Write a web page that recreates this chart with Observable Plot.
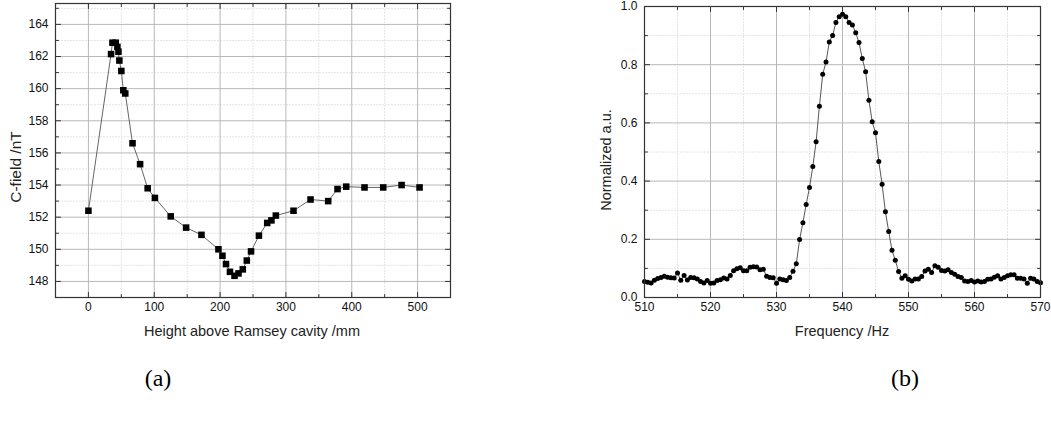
<!DOCTYPE html>
<html><head><meta charset="utf-8">
<script src="https://cdn.jsdelivr.net/npm/d3@7"></script>
<script src="https://cdn.jsdelivr.net/npm/@observablehq/plot@0.6"></script>
<style>
body{margin:0;background:#fff;}
#root{position:relative;width:1051px;height:421px;overflow:hidden;}
#root svg{position:absolute;top:0;}
.cap{position:absolute;font-family:"Liberation Serif","Times New Roman",serif;font-size:24px;color:#000;transform:translate(-50%,-50%);white-space:nowrap;line-height:1;}
.ttl{position:absolute;font-family:Arial,"Liberation Sans",sans-serif;color:#222;white-space:nowrap;line-height:1;transform:translate(-50%,-50%);}
.ttl.rot{transform:translate(-50%,-50%) rotate(-90deg);}
</style></head><body><div id="root"></div>
<script>
// ---- Panel (a) data ----
const heights = [0, 34.4, 36.5, 41.5, 44, 45.6, 47, 50, 53, 56, 67, 78.5, 90, 101, 125, 148.4, 171.7, 197.5, 203.6, 209, 215, 221.9, 228, 234.5, 240.6, 247, 259, 271.6, 278, 284.7, 311.5, 337.4, 364.2, 378.4, 391.6, 419.4, 447.8, 475.7, 503];
const cfield = [152.4, 162.15, 162.86, 162.86, 162.6, 162.3, 161.75, 161.1, 159.9, 159.7, 156.6, 155.3, 153.8, 153.2, 152.05, 151.35, 150.9, 150.0, 149.6, 149.08, 148.6, 148.35, 148.5, 148.75, 149.3, 149.87, 150.85, 151.64, 151.8, 152.1, 152.4, 153.1, 153.0, 153.75, 153.9, 153.85, 153.85, 154.0, 153.85];
const aXMajor = [0, 100, 200, 300, 400, 500];
const aXMinor = [50, 150, 250, 350, 450];
const aYMajor = [148, 150, 152, 154, 156, 158, 160, 162, 164];
const aYMinor = [149, 151, 153, 155, 157, 159, 161, 163, 165];

// ---- Panel (b) data ----
const freqs = [510, 510.5, 511, 511.5, 512, 512.5, 513, 513.5, 514, 514.5,
  515, 515.5, 516, 516.5, 517, 517.5, 518, 518.5, 519, 519.5,
  520, 520.5, 521, 521.5, 522, 522.5, 523, 523.5, 524, 524.5,
  525, 525.5, 526, 526.5, 527, 527.5, 528, 528.5, 529, 529.5,
  530, 530.5, 531, 531.5, 532, 532.5, 533, 533.5, 534, 534.5,
  535, 535.5, 536, 536.5, 537, 537.5, 538, 538.5, 539, 539.5,
  540, 540.5, 541, 541.5, 542, 542.5, 543, 543.5, 544, 544.5,
  545, 545.5, 546, 546.5, 547, 547.5, 548, 548.5, 549, 549.5,
  550, 550.5, 551, 551.5, 552, 552.5, 553, 553.5, 554, 554.5,
  555, 555.5, 556, 556.5, 557, 557.5, 558, 558.5, 559, 559.5,
  560, 560.5, 561, 561.5, 562, 562.5, 563, 563.5, 564, 564.5,
  565, 565.5, 566, 566.5, 567, 567.5, 568, 568.5, 569, 569.5, 570];
const signal = [0.055, 0.052, 0.050, 0.059, 0.065, 0.069, 0.073, 0.070, 0.068, 0.067,
  0.084, 0.059, 0.076, 0.060, 0.069, 0.068, 0.064, 0.055, 0.050, 0.058,
  0.049, 0.050, 0.058, 0.061, 0.067, 0.064, 0.076, 0.092, 0.099, 0.102,
  0.092, 0.092, 0.104, 0.106, 0.105, 0.095, 0.097, 0.073, 0.069, 0.068,
  0.049, 0.064, 0.061, 0.058, 0.069, 0.090, 0.116, 0.199, 0.257, 0.320,
  0.378, 0.450, 0.535, 0.657, 0.767, 0.809, 0.878, 0.900, 0.945, 0.965,
  0.973, 0.965, 0.945, 0.936, 0.910, 0.876, 0.821, 0.776, 0.678, 0.604,
  0.566, 0.467, 0.389, 0.295, 0.227, 0.162, 0.128, 0.089, 0.066, 0.075,
  0.063, 0.057, 0.064, 0.064, 0.072, 0.091, 0.097, 0.086, 0.109, 0.104,
  0.093, 0.091, 0.095, 0.086, 0.080, 0.072, 0.069, 0.057, 0.055, 0.058,
  0.053, 0.057, 0.053, 0.055, 0.063, 0.064, 0.070, 0.075, 0.064, 0.069,
  0.075, 0.078, 0.078, 0.066, 0.066, 0.064, 0.049, 0.066, 0.064, 0.055, 0.051];
const bXMajor = [510, 520, 530, 540, 550, 560, 570];
const bXMinor = [515, 525, 535, 545, 555, 565];
const bYMajor = [0, 0.2, 0.4, 0.6, 0.8, 1.0];
const bYMinor = [0.1, 0.3, 0.5, 0.7, 0.9];

// ---- Text ----
const titles = [
  {text: "Height above Ramsey cavity /mm", left: 252, top: 331, size: 14.5, rot: false},
  {text: "C-field /nT", left: 15.5, top: 167, size: 15.5, rot: true},
  {text: "Frequency /Hz", left: 842, top: 331, size: 14.5, rot: false},
  {text: "Normalized a.u.", left: 606, top: 160, size: 14.5, rot: true}
];
const captions = [["(a)", 158, 378], ["(b)", 905, 378]];

const tickShape = {draw(context, l) { context.moveTo(0, 0); context.lineTo(0, -l); }};
const tickColor = "#333";

function inwardTicks(xMaj, xMin, yMaj, yMin) {
  const o = {shape: tickShape, anchor: "start", stroke: tickColor, strokeWidth: 1};
  return [
    Plot.vectorX(xMaj, {...o, frameAnchor: "bottom", rotate: 0, length: 5}),
    Plot.vectorX(xMin, {...o, frameAnchor: "bottom", rotate: 0, length: 3}),
    Plot.vectorX(xMaj, {...o, frameAnchor: "top", rotate: 180, length: 5}),
    Plot.vectorX(xMin, {...o, frameAnchor: "top", rotate: 180, length: 3}),
    Plot.vectorY(yMaj, {...o, frameAnchor: "left", rotate: 90, length: 5}),
    Plot.vectorY(yMin, {...o, frameAnchor: "left", rotate: 90, length: 3}),
    Plot.vectorY(yMaj, {...o, frameAnchor: "right", rotate: -90, length: 5}),
    Plot.vectorY(yMin, {...o, frameAnchor: "right", rotate: -90, length: 3})
  ];
}
function grids(xMaj, xMin, yMaj, yMin) {
  return [
    Plot.gridX(xMin, {stroke: "#e4e4e4", strokeOpacity: 1, strokeDasharray: "2,1"}),
    Plot.gridY(yMin, {stroke: "#e4e4e4", strokeOpacity: 1, strokeDasharray: "2,1"}),
    Plot.gridX(xMaj, {stroke: "#b8b8b8", strokeOpacity: 1}),
    Plot.gridY(yMaj, {stroke: "#b8b8b8", strokeOpacity: 1})
  ];
}
const font = "Arial, 'Liberation Sans', sans-serif";
const style = {fontFamily: font, fontSize: "12px", color: "#111", background: "transparent", overflow: "visible"};

const dataA = heights.map((h, i) => ({h, c: cfield[i]}));
const plotA = Plot.plot({
  width: 470, height: 342,
  marginLeft: 55, marginRight: 20, marginTop: 3, marginBottom: 45,
  style,
  x: {domain: [-50, 550]},
  y: {domain: [147, 165.3]},
  marks: [
    ...grids(aXMajor, aXMinor, aYMajor, aYMinor),
    Plot.axisX({ticks: aXMajor, tickSize: 0, tickPadding: 5, label: null, fontSize: 12}),
    Plot.axisY({ticks: aYMajor, tickSize: 0, tickPadding: 7, label: null, fontSize: 12}),
    Plot.line(dataA, {x: "h", y: "c", stroke: "#555", strokeWidth: 0.9}),
    Plot.dot(dataA, {x: "h", y: "c", symbol: "square", r: 3.7, fill: "#000", stroke: "none"}),
    ...inwardTicks(aXMajor, aXMinor, aYMajor, aYMinor),
    Plot.frame({stroke: "#333", strokeWidth: 1.2})
  ]
});
plotA.style.left = "0px";

const dataB = freqs.map((f, i) => ({f, s: signal[i]}));
const plotB = Plot.plot({
  width: 491, height: 343,
  marginLeft: 84, marginRight: 11, marginTop: 6, marginBottom: 46,
  style,
  x: {domain: [510, 570]},
  y: {domain: [0, 1]},
  marks: [
    ...grids(bXMajor, bXMinor, bYMajor, bYMinor),
    Plot.axisX({ticks: bXMajor, tickSize: 0, tickPadding: 5, label: null, fontSize: 12}),
    Plot.axisY({ticks: bYMajor, tickSize: 0, tickPadding: 7, label: null, fontSize: 12, tickFormat: d3.format(".1f")}),
    Plot.line(dataB, {x: "f", y: "s", stroke: "#444", strokeWidth: 0.9}),
    Plot.dot(dataB, {x: "f", y: "s", r: 2.5, fill: "#000", stroke: "none"}),
    ...inwardTicks(bXMajor, bXMinor, bYMajor, bYMinor),
    Plot.frame({stroke: "#333", strokeWidth: 1.2})
  ]
});
plotB.style.left = "560px";

const root = document.getElementById("root");
root.append(plotA, plotB);
for (const t of titles) {
  const d = document.createElement("div");
  d.className = t.rot ? "ttl rot" : "ttl";
  d.textContent = t.text;
  d.style.left = t.left + "px";
  d.style.top = t.top + "px";
  d.style.fontSize = t.size + "px";
  root.append(d);
}
for (const [t, x, y] of captions) {
  const d = document.createElement("div");
  d.className = "cap";
  d.textContent = t;
  d.style.left = x + "px";
  d.style.top = y + "px";
  root.append(d);
}
</script>
</body></html>
